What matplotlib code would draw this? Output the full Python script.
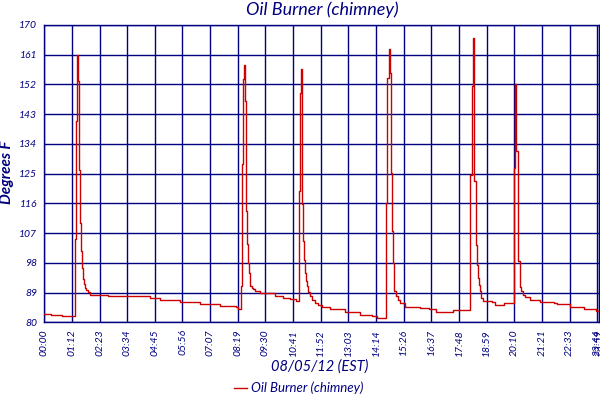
import matplotlib
matplotlib.use("Agg")
import matplotlib.pyplot as plt

NAVY = "#000080"
RED = "#cc0000"

# time in minutes after midnight, chimney temperature in deg F (step data)
minutes = [
    0, 17, 46, 79, 82, 85, 87, 89, 92, 94, 97, 100, 102, 105, 108, 112, 118,
    164, 221, 272, 298, 349, 401, 452, 493, 498,
    507, 509, 511, 514, 516, 519, 522, 524, 527, 529, 531, 534, 538, 542,
    555, 594, 614, 632, 648,
    656, 659, 661, 663, 665, 667, 669, 671, 673, 676, 680, 684, 690, 697,
    705, 715, 735, 774, 813, 843, 856,
    881, 883, 887, 890, 892, 895, 897, 900, 902, 905, 910, 915, 928, 967,
    992, 1010, 1052, 1090,
    1097, 1101, 1103, 1107, 1108, 1111, 1114, 1117, 1119, 1121, 1126, 1131,
    1139, 1152, 1162, 1185,
    1209, 1210, 1212, 1215, 1219, 1221, 1224, 1226, 1229, 1233, 1237, 1250,
    1276, 1314, 1320, 1353, 1391, 1422, 1429,
]
temps = [
    82.6, 82.2, 81.9, 105.3, 141.0, 161.0, 153.0, 126.0, 110.0, 101.5, 96.6,
    93.0, 91.6, 90.5, 89.8, 89.2, 88.4,
    87.9, 88.0, 87.5, 86.8, 86.3, 85.6, 85.1, 84.6, 84.2,
    91.0, 127.8, 153.8, 158.0, 147.0, 113.8, 103.8, 98.0, 95.0, 92.0, 91.0,
    90.4, 90.0, 89.6, 88.9, 88.1, 87.4, 87.0, 86.4,
    119.7, 149.5, 156.8, 149.8, 115.7, 104.5, 99.0, 95.0, 92.5, 90.9, 89.2,
    87.9, 86.8, 85.9, 85.3, 84.8, 84.0, 83.0, 82.3, 81.8, 81.3,
    116.2, 154.0, 162.8, 155.6, 125.3, 107.6, 98.0, 92.0, 89.6, 87.9, 86.7,
    85.9, 84.8, 84.4, 84.0, 83.0, 83.8, 83.8,
    124.5, 151.5, 166.0, 150.0, 122.7, 103.5, 97.5, 93.5, 91.2, 89.4, 87.5,
    86.4, 86.6, 86.2, 85.4, 85.9,
    93.9, 126.8, 152.0, 131.8, 107.6, 98.5, 92.4, 90.6, 89.4, 88.3, 87.6,
    86.9, 86.2, 85.9, 85.6, 84.8, 84.2, 83.6, 83.5,
]

tick_labels = [
    "00:00", "01:12", "02:23", "03:34", "04:45", "05:56", "07:07", "08:19",
    "09:30", "10:41", "11:52", "13:03", "14:14", "15:26", "16:37", "17:48",
    "18:59", "20:10", "21:21", "22:33", "23:44", "23:59",
]
y_ticks = [80, 89, 98, 107, 116, 125, 134, 143, 152, 161, 170]

tick_step = 71.2
x_end = minutes[-1]

fig = plt.figure(figsize=(6, 4), dpi=100)
ax = fig.add_axes([0.0738, 0.194, 0.9247, 0.7435])

ax.plot(minutes, temps, color=RED, linewidth=1.0, drawstyle="steps-post",
        label="Oil Burner (chimney)", zorder=3)

xticks = [i * tick_step for i in range(len(tick_labels) - 1)] + [x_end]
ax.set_xticks(xticks)
ax.set_xticklabels(tick_labels, rotation=90, fontsize=7.5, style="italic",
                   color=NAVY, family="Lato")
ax.set_yticks(y_ticks)
ax.set_yticklabels([str(v) for v in y_ticks], fontsize=7.5, style="italic",
                   color=NAVY, family="Lato")
ax.tick_params(length=0, pad=5)

ax.set_xlim(0, x_end)
ax.set_ylim(80, 170)
ax.grid(True, color=NAVY, linewidth=1.0)
ax.set_axisbelow(True)
for s in ax.spines.values():
    s.set_color(NAVY)
    s.set_linewidth(1.0)

fig.text(0.537, 0.975, "Oil Burner (chimney)", ha="center", va="center",
         fontsize=13, style="italic", color=NAVY, family="Lato")
ax.set_ylabel("Degrees F", fontsize=11, style="italic", weight="bold",
              color=NAVY, family="Lato")
ax.yaxis.set_label_coords(-0.054, 0.505)
fig.text(0.532, 0.083, "08/05/12 (EST)", ha="center", va="center",
         fontsize=10.5, style="italic", color=NAVY, family="Lato")

leg = fig.legend(loc="center", bbox_to_anchor=(0.498, 0.03), frameon=False,
                 handlelength=0.95, handletextpad=0.35,
                 prop={"family": "Lato", "style": "italic", "size": 9.5})
for t in leg.get_texts():
    t.set_color(NAVY)

fig.savefig("out.png", dpi=100)
